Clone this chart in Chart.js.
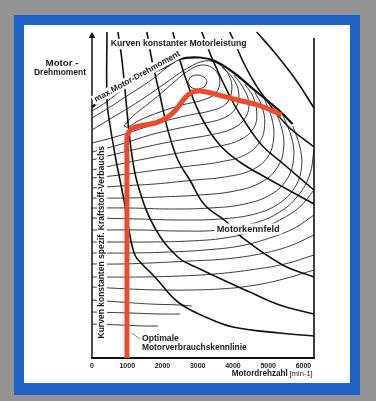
<!DOCTYPE html>
<html>
<head>
<meta charset="utf-8">
<script src="https://cdn.jsdelivr.net/npm/chart.js@4.4.1/dist/chart.umd.min.js"></script>
<style>
  html, body { margin: 0; padding: 0; background: #939393; }
</style>
</head>
<body>
<canvas id="chart" width="376" height="401"></canvas>
<script>
// x = Motordrehzahl [min-1], y = Drehmoment (no scale on the original, arbitrary units)
const xTicks = [0, 1000, 2000, 3000, 4000, 5000, 6000];

const optimalLine = [[992,0],[992,200],[992,221],[1048,226],[1162,230],[1500,233],[1785,235],[2068,239],[2351,247],[2663,261],[2861,266],[3060,267],[3371,265],[4136,258],[4788,252],[5383,243]];
const maxTorque = [[0,251],[595,266],[1558,283],[2068,291],[2493,299],[3060,300.5],[3485,297],[3995,286],[4675,266],[5326,247],[5695,234]];

// Kurven konstanter Motorleistung
const power1 = [[425,326],[425,258],[510,233],[680,198],[907,158],[1048,128],[1218,103],[1445,93],[1785,81],[2436,56],[3286,40],[3994,31],[5326,25],[6300,22]];
const power2 = [[737,326],[850,298],[963,258],[1105,210],[1303,173],[1785,130],[2436,101],[3003,90],[4476,66],[5326,53],[6300,44]];
const power3 = [[1558,326],[1700,298],[1926,263],[2153,228],[2436,198],[2776,178],[3201,153],[3824,136],[4278,120],[5411,93],[6300,81]];
const power4 = [[2295,326],[2493,298],[2776,268],[3145,238],[3626,213],[4193,196],[4958,180],[6300,154]];
const power5 = [[3116,326],[3428,298],[3966,258],[4306,238],[4816,213],[5468,193],[6300,168]];
const power6 = [[3909,326],[4080,313],[4278,297],[4533,280],[4844,263],[5524,233],[6300,211]];
const power7 = [[4674,326],[5241,303],[5807,277],[6300,250]];

// Kurven konstanten spezif. Kraftstoff-Verbrauchs
const bsfc1 = [[2720,276],[2805,281],[2975,283],[3173,281],[3258,276],[3173,271],[2975,269],[2805,271],[2720,276]];
const bsfc2 = [[907,232],[1162,242],[1700,257],[2267,274],[2720,287],[3117,293],[3457,289],[3627,278],[3513,265],[3145,258],[2550,253],[1927,246],[1360,238],[1020,231],[907,232]];
const bsfc3 = [[0,228],[510,239],[1077,251],[1643,264],[2210,278],[2720,290],[3202,297],[3598,294],[3882,283],[3967,268],[3797,254],[3343,247],[2777,243],[2068,237],[1360,229],[652,221],[0,215]];
const bsfc4a = [[0,240],[510,251],[1077,264],[1643,277],[2068,289],[2352,296]];
const bsfc4b = [[3683,291],[3995,280],[4165,265],[4080,250],[3740,240],[3060,234],[2352,229],[1643,223],[935,215],[227,208],[0,206]];
const bsfc5a = [[0,247],[368,255],[737,265],[1020,272]];
const bsfc5b = [[4023,283],[4278,271],[4448,256],[4363,241],[4023,230],[3343,223],[2493,218],[1643,212],[793,205],[0,198]];
const bsfc6 = [[4335,274],[4562,262],[4675,246],[4590,230],[4193,218],[3485,211],[2635,206],[1643,200],[793,194],[0,188]];
const bsfc7 = [[4618,266],[4817,252],[4902,234],[4760,216],[4335,203],[3627,196],[2777,192],[1643,187],[793,183],[0,180]];
const bsfc8 = [[4902,258],[5100,240],[5157,220],[4987,201],[4533,188],[3768,181],[2918,178],[1785,174],[793,172],[0,170]];
const bsfc9 = [[5157,250],[5383,230],[5440,210],[5270,191],[4817,176],[4052,167],[3060,163],[1927,161],[935,160],[0,160]];
const bsfc10 = [[5412,243],[5667,220],[5723,200],[5553,180],[5100,164],[4335,154],[3343,150],[2210,149],[1077,150],[0,150]];
const bsfc11 = [[5695,232],[5893,212],[5950,192],[5780,172],[5327,155],[4618,144],[3627,139],[2493,138],[1360,139],[0,140]];
const bsfc12 = [[6300,208],[6177,183],[5837,162],[5327,146],[4618,135],[3627,128],[2493,127],[1360,128],[0,128]];
const bsfc13 = [[6300,168],[5893,151],[5327,138],[4618,127],[3768,120],[2777,117],[1643,116],[793,116],[0,116]];
const bsfc14 = [[6300,143],[5752,130],[5043,120],[4193,112],[3202,108],[2210,106],[1077,105],[0,105]];
const bsfc15 = [[6300,123],[5610,112],[4760,104],[3768,99],[2777,97],[1643,95],[793,94],[0,94]];
const bsfc16 = [[6300,103],[5468,94],[4477,88],[3485,84],[2493,82],[1360,81],[0,81]];
const bsfc17 = [[6300,88],[5327,78],[4477,72],[3627,69],[2777,68],[1927,68],[1077,69],[0,71]];
const bsfc18 = [[0,58],[793,56],[1643,54],[2493,53],[2833,52]];
const bsfc19 = [[0,46],[1077,45],[1927,44],[2493,44]];
const bsfc20 = [[0,34],[793,33],[1502,32],[1870,32]];

const yAxisLine = [[0,0],[0,322]];
const rightBorder = [[6300,0],[6300,320]];
const leader = [[1133,25],[1360,19]];

const powerCurves = [power1, power2, power3, power4, power5, power6, power7];
const bsfcCurves = [bsfc1, bsfc2, bsfc3, bsfc4a, bsfc4b, bsfc5a, bsfc5b, bsfc6, bsfc7, bsfc8, bsfc9, bsfc10,
  bsfc11, bsfc12, bsfc13, bsfc14, bsfc15, bsfc16, bsfc17, bsfc18, bsfc19, bsfc20];

// text in data units, w = width in px it should fill
const notes = [
  { t: 'Kurven konstanter Motorleistung', x: 2464, y: 314, w: 136, align: 'center', rot: 0, bg: true },
  { t: 'max.Motor-Drehmoment', x: 85, y: 258, w: 97, align: 'left', rot: -29, bg: true },
  { t: 'Kurven konstanten spezif. Kraftstoff-Verbauchs', x: 283, y: 116, w: 193, align: 'center', rot: -90, bg: true },
  { t: 'Motorkennfeld', x: 4434, y: 129, w: 63, align: 'center', rot: 0, bg: true },
  { t: 'Optimale', x: 1417, y: 19, w: 37, align: 'left', rot: 0, bg: true },
  { t: 'Motorverbrauchskennlinie', x: 1417, y: 10, w: 105, align: 'left', rot: 0, bg: true },
  { t: 'Motor -', x: -850, y: 295, w: 33, align: 'center', rot: 0 },
  { t: 'Drehmoment', x: -907, y: 285, w: 52, align: 'center', rot: 0 },
  { t: 'Motordrehzahl', x: 3966, y: -16, w: 56, align: 'left', rot: 0 },
  { t: '[min-1]', x: 5610, y: -16, w: 23, align: 'left', rot: 0, weight: 'normal' }
];

function pts(arr) {
  return arr.map(p => ({ x: p[0], y: p[1] }));
}

function curve(arr, width, color, order) {
  return {
    data: pts(arr),
    showLine: true,
    borderColor: color,
    borderWidth: width,
    pointRadius: 0,
    tension: 0.4,
    fill: false,
    clip: 6,
    order: order
  };
}

const frame = {
  id: 'frame',
  beforeDraw(chart) {
    const ctx = chart.ctx;
    ctx.save();
    ctx.fillStyle = '#939393';
    ctx.fillRect(0, 0, chart.width, chart.height);
    ctx.fillStyle = '#1f63c6';
    ctx.fillRect(14, 15, 346, 380);
    ctx.fillStyle = '#ffffff';
    ctx.fillRect(24, 25, 326, 358);
    ctx.restore();
  }
};

const textPlugin = {
  id: 'notes',
  afterDatasetsDraw(chart) {
    const ctx = chart.ctx;
    const xs = chart.scales.x, ys = chart.scales.y;
    notes.forEach(n => {
      const weight = n.weight || 'bold';
      const px = xs.getPixelForValue(n.x);
      const py = ys.getPixelForValue(n.y);
      ctx.save();
      ctx.translate(px, py);
      ctx.rotate(n.rot * Math.PI / 180);
      ctx.font = weight + ' 10px "Liberation Sans", Arial, sans-serif';
      const size = 10 * n.w / ctx.measureText(n.t).width;
      ctx.font = weight + ' ' + size.toFixed(2) + 'px "Liberation Sans", Arial, sans-serif';
      const x0 = n.align === 'left' ? 0 : -n.w / 2;
      if (n.bg) {
        ctx.fillStyle = '#ffffff';
        ctx.fillRect(x0 - 2, -size * 0.6, n.w + 4, size * 1.2);
      }
      ctx.fillStyle = '#1a1a1a';
      ctx.textAlign = 'left';
      ctx.textBaseline = 'middle';
      ctx.fillText(n.t, x0, 0);
      ctx.restore();
    });
  }
};

const datasets = [];
datasets.push(curve(optimalLine, 5, '#ee4b2b', 0));
datasets.push(curve(maxTorque, 2.2, '#111111', 1));
powerCurves.forEach(c => datasets.push(curve(c, 1.6, '#111111', 2)));
bsfcCurves.forEach(c => datasets.push(curve(c, 0.9, '#262626', 3)));
datasets.push(curve(rightBorder, 1.6, '#111111', 2));
datasets.push(curve(leader, 0.7, '#444444', 3));
const axisSet = curve(yAxisLine, 1.5, '#111111', 1);
axisSet.tension = 0;
axisSet.pointStyle = 'triangle';
axisSet.pointRadius = c => (c.dataIndex === 1 ? 4 : 0);
axisSet.pointBackgroundColor = '#111111';
axisSet.pointBorderWidth = 0;
datasets.push(axisSet);

new Chart(document.getElementById('chart'), {
  type: 'scatter',
  data: { datasets: datasets },
  options: {
    responsive: false,
    animation: false,
    devicePixelRatio: 1,
    layout: { padding: { left: 92, right: 62, top: 30, bottom: 23 } },
    plugins: { legend: { display: false }, tooltip: { enabled: false } },
    scales: {
      x: {
        type: 'linear',
        min: 0,
        max: 6300,
        afterBuildTicks: s => { s.ticks = xTicks.map(v => ({ value: v })); },
        afterFit: s => { s.height = 20; },
        grid: { display: false, drawTicks: false },
        border: { display: true, color: '#111111', width: 2 },
        ticks: {
          color: '#222222',
          padding: 4,
          maxRotation: 0,
          autoSkip: false,
          callback: v => String(v),
          font: { family: '"Liberation Sans", Arial, sans-serif', size: 7, weight: 'bold' }
        }
      },
      y: { type: 'linear', min: 0, max: 328, display: false }
    }
  },
  plugins: [frame, textPlugin]
});
</script>
</body>
</html>
